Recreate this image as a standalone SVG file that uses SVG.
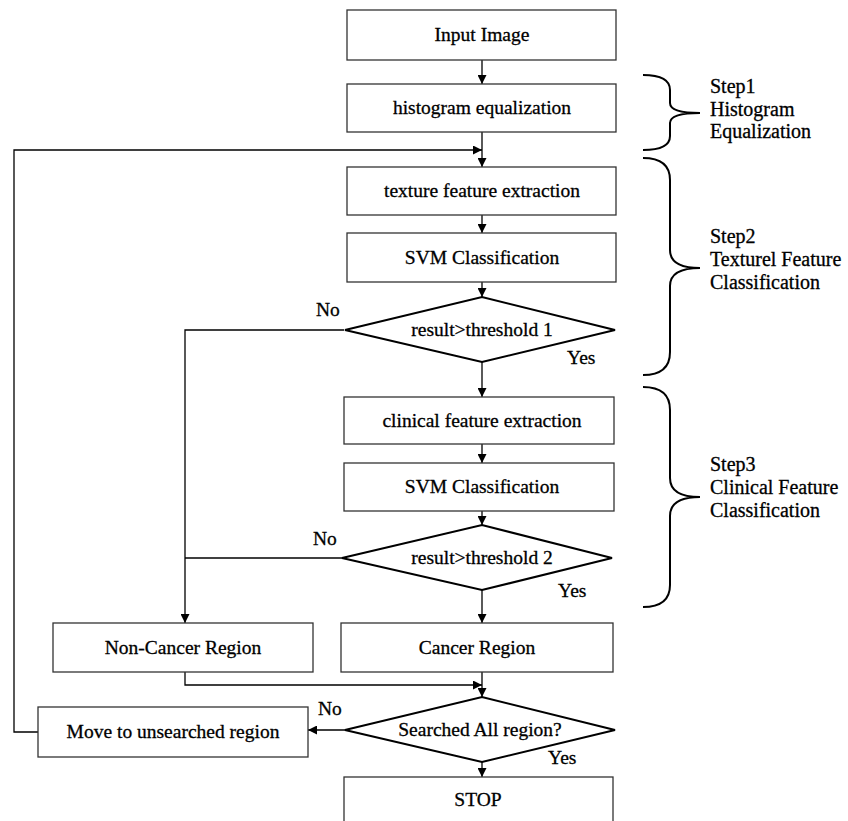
<svg xmlns="http://www.w3.org/2000/svg" width="848" height="821" viewBox="0 0 848 821" font-family="'Liberation Serif', 'DejaVu Serif', 'Times New Roman', serif" font-size="19.5">
<style>
.box{fill:#fff;stroke:#333;stroke-width:1.3}
.dia{fill:#fff;stroke:#000;stroke-width:2}
.ln{fill:none;stroke:#000;stroke-width:1.3}
.br{fill:none;stroke:#000;stroke-width:2}
text{font-family:'Liberation Serif','DejaVu Serif','Times New Roman',serif;font-size:19.5px;fill:#000;stroke:#000;stroke-width:0.3}
.c{text-anchor:middle}
.st{font-size:20px}
</style>
<defs>
<marker id="ah" viewBox="0 0 10 10" refX="10" refY="5" markerWidth="9" markerHeight="9" markerUnits="userSpaceOnUse" orient="auto">
<path d="M0,0 L10,5 L0,10 Z" fill="#000"/>
</marker>
</defs>
<g id="connectors">
<line class="ln" x1="482" y1="60" x2="482" y2="84" marker-end="url(#ah)"/>
<line class="ln" x1="482" y1="132" x2="482" y2="167" marker-end="url(#ah)"/>
<polyline class="ln" points="38,732 14,732 14,150 482,150" marker-end="url(#ah)"/>
<line class="ln" x1="482" y1="215" x2="482" y2="233" marker-end="url(#ah)"/>
<line class="ln" x1="482" y1="282" x2="482" y2="297" marker-end="url(#ah)"/>
<line class="ln" x1="482" y1="362" x2="482" y2="397" marker-end="url(#ah)"/>
<polyline class="ln" points="344,330 185,330 185,623" marker-end="url(#ah)"/>
<line class="ln" x1="482" y1="444" x2="482" y2="463" marker-end="url(#ah)"/>
<line class="ln" x1="482" y1="511" x2="482" y2="525" marker-end="url(#ah)"/>
<line class="ln" x1="342" y1="558" x2="185" y2="558"/>
<line class="ln" x1="482" y1="590" x2="482" y2="623" marker-end="url(#ah)"/>
<polyline class="ln" points="185,672 185,685 482,685" marker-end="url(#ah)"/>
<line class="ln" x1="482" y1="672" x2="482" y2="697" marker-end="url(#ah)"/>
<line class="ln" x1="345" y1="730" x2="308" y2="730" marker-end="url(#ah)"/>
<line class="ln" x1="482" y1="762" x2="482" y2="777" marker-end="url(#ah)"/>
</g>
<g id="input"><rect class="box" x="347" y="10" width="269" height="50"/><text class="c" x="482" y="41">Input Image</text></g>
<g id="hist"><rect class="box" x="347" y="84" width="269" height="48"/><text class="c" x="482" y="114">histogram equalization</text></g>
<g id="texture"><rect class="box" x="347" y="167" width="269" height="48"/><text class="c" x="482" y="197">texture feature extraction</text></g>
<g id="svm1"><rect class="box" x="347" y="233" width="269" height="49"/><text class="c" x="482" y="264">SVM Classification</text></g>
<g id="dec1"><polygon class="dia" points="345,330 482,297 615,330 482,362"/><text class="c" x="482" y="336">result&gt;threshold 1</text></g>
<g id="clinical"><rect class="box" x="344" y="397" width="270" height="47"/><text class="c" x="482" y="427">clinical feature extraction</text></g>
<g id="svm2"><rect class="box" x="344" y="463" width="270" height="48"/><text class="c" x="482" y="493">SVM Classification</text></g>
<g id="dec2"><polygon class="dia" points="342,558 482,525 612,558 482,590"/><text class="c" x="482" y="564">result&gt;threshold 2</text></g>
<g id="noncancer"><rect class="box" x="53" y="623" width="260" height="49"/><text class="c" x="183" y="654">Non-Cancer Region</text></g>
<g id="cancer"><rect class="box" x="341" y="623" width="272" height="49"/><text class="c" x="477" y="654">Cancer Region</text></g>
<g id="dec3"><polygon class="dia" points="345,730 482,697 615,730 482,762"/><text class="c" x="480" y="736">Searched All region?</text></g>
<g id="move"><rect class="box" x="38" y="707" width="270" height="50"/><text class="c" x="173" y="738">Move to unsearched region</text></g>
<g id="stop"><rect class="box" x="344" y="777" width="269" height="60"/><text class="c" x="478" y="806">STOP</text></g>
<g id="labels">
<text x="316" y="316">No</text>
<text x="567" y="364">Yes</text>
<text x="313" y="545">No</text>
<text x="558" y="597">Yes</text>
<text x="318" y="715">No</text>
<text x="548" y="764">Yes</text>
</g>
<g id="step1">
<path class="br" d="M643,75 Q670,75 670,90 L670,103 Q670,113 700,113 Q670,113 670,123 L670,136 Q670,150 643,150"/>
<text class="st" x="710" y="93">Step1</text><text class="st" x="710" y="116">Histogram</text><text class="st" x="710" y="138">Equalization</text>
</g>
<g id="step2">
<path class="br" d="M643,158 Q670,158 670,180 L670,250 Q670,268 700,268 Q670,268 670,286 L670,352 Q670,375 643,375"/>
<text class="st" x="710" y="243">Step2</text><text class="st" x="710" y="266">Texturel Feature</text><text class="st" x="710" y="289">Classification</text>
</g>
<g id="step3">
<path class="br" d="M643,387 Q670,387 670,410 L670,478 Q670,497 700,497 Q670,497 670,516 L670,585 Q670,607 643,607"/>
<text class="st" x="710" y="471">Step3</text><text class="st" x="710" y="494">Clinical Feature</text><text class="st" x="710" y="517">Classification</text>
</g>
</svg>
